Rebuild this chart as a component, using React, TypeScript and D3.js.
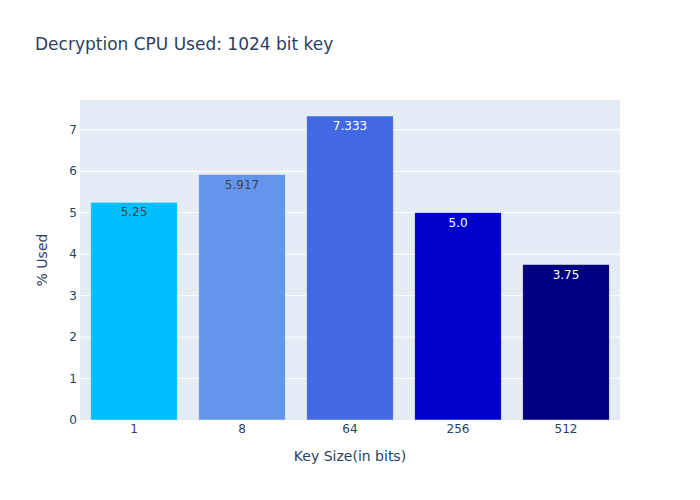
import React from "react";
import * as d3 from "d3";

const categories: string[] = ["1", "8", "64", "256", "512"];
const values: number[] = [5.25, 5.917, 7.333, 5.0, 3.75];
const labels: string[] = ["5.25", "5.917", "7.333", "5.0", "3.75"];
const colors: string[] = ["#00BFFF", "#6495ED", "#4169E1", "#0000CD", "#000080"];
const textColors: string[] = ["#444", "#444", "#fff", "#fff", "#fff"];
const yTicks: number[] = [0, 1, 2, 3, 4, 5, 6, 7];

const W = 700, H = 500;
const M = { l: 80, r: 80, t: 100, b: 80 };
const FONT = '"DejaVu Sans", verdana, arial, sans-serif';

export default function App() {
  const pw = W - M.l - M.r;
  const ph = H - M.t - M.b;
  const x = d3.scaleBand<string>().domain(categories).range([M.l, M.l + pw]).paddingInner(0.2).paddingOuter(0.1);
  const y = d3.scaleLinear().domain([0, 7.333 * 1.0526]).range([M.t + ph, M.t]);
  return (
    <svg width={W} height={H} style={{ position: "absolute", left: 0, top: 0, fontFamily: FONT }}>
      <rect x={0} y={0} width={W} height={H} fill="#fff" />
      <rect x={M.l} y={M.t} width={pw} height={ph} fill="#E5ECF6" />
      {yTicks.map((t) => (
        <g key={t}>
          {t > 0 && <line x1={M.l} x2={M.l + pw} y1={y(t)} y2={y(t)} stroke="#fff" strokeWidth={1} />}
          <text x={M.l - 3} y={y(t)} dy="0.35em" textAnchor="end" fontSize={12} fill="#2a3f5f">{t}</text>
        </g>
      ))}
      {categories.map((c, i) => {
        const x0 = x(c)!;
        const bw = x.bandwidth();
        return (
          <g key={c}>
            <rect x={x0} y={y(values[i])} width={bw} height={y(0) - y(values[i])} fill={colors[i]} stroke="#E5ECF6" strokeWidth={0.5} />
            <text x={x0 + bw / 2} y={y(values[i]) + 14} textAnchor="middle" fontSize={12} fill={textColors[i]}>{labels[i]}</text>
            <text x={x0 + bw / 2} y={y(0) + 13} textAnchor="middle" fontSize={12} fill="#2a3f5f">{c}</text>
          </g>
        );
      })}
      <text x={35} y={50} fontSize={17} fill="#2a3f5f">Decryption CPU Used: 1024 bit key</text>
      <text x={M.l + pw / 2} y={461} textAnchor="middle" fontSize={14} fill="#2a3f5f">Key Size(in bits)</text>
      <text transform={`translate(47,${M.t + ph / 2}) rotate(-90)`} textAnchor="middle" fontSize={14} fill="#2a3f5f">% Used</text>
    </svg>
  );
}
